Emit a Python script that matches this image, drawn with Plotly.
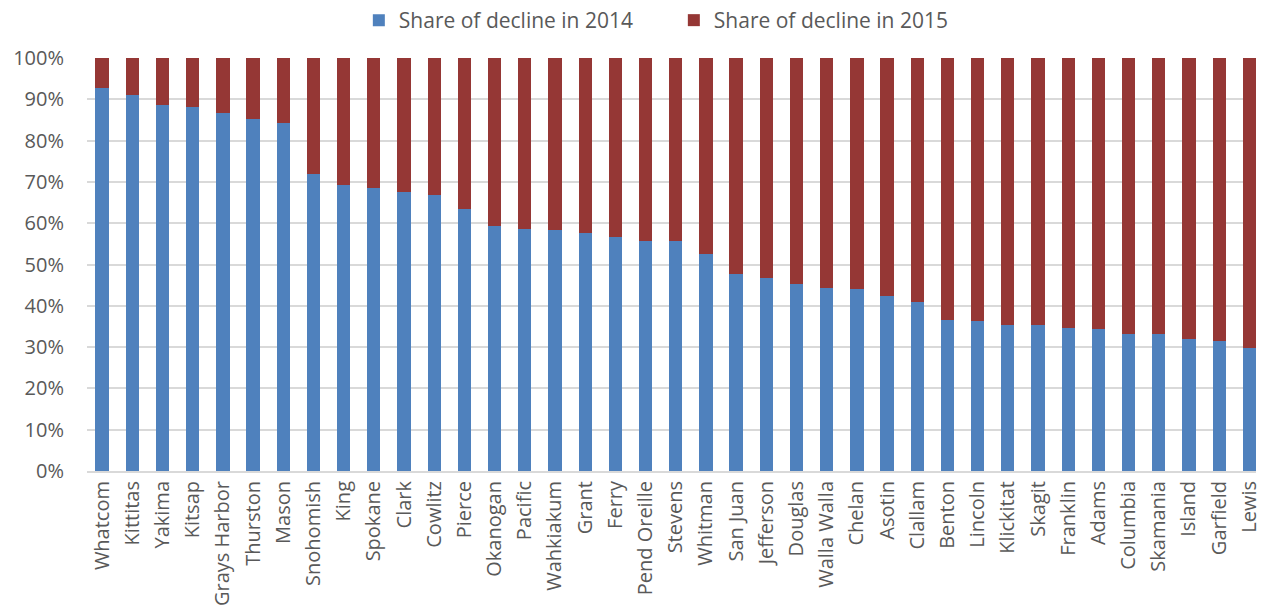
import plotly.graph_objects as go

counties = ["Whatcom", "Kittitas", "Yakima", "Kitsap", "Grays Harbor", "Thurston", "Mason",
            "Snohomish", "King", "Spokane", "Clark", "Cowlitz", "Pierce", "Okanogan", "Pacific",
            "Wahkiakum", "Grant", "Ferry", "Pend Oreille", "Stevens", "Whitman", "San Juan",
            "Jefferson", "Douglas", "Walla Walla", "Chelan", "Asotin", "Clallam", "Benton",
            "Lincoln", "Klickitat", "Skagit", "Franklin", "Adams", "Columbia", "Skamania",
            "Island", "Garfield", "Lewis"]

share_2014 = [0.928, 0.910, 0.887, 0.881, 0.866, 0.853, 0.842,
              0.718, 0.692, 0.686, 0.675, 0.668, 0.634, 0.593, 0.586,
              0.583, 0.576, 0.566, 0.558, 0.557, 0.526, 0.477,
              0.468, 0.454, 0.442, 0.441, 0.424, 0.410, 0.366,
              0.363, 0.354, 0.354, 0.347, 0.345, 0.331, 0.331,
              0.319, 0.315, 0.299]
share_2015 = [round(1 - v, 3) for v in share_2014]

series_names = ["Share of decline in 2014", "Share of decline in 2015"]
colors = ["#4F81BD", "#953735"]

fig = go.Figure()
fig.add_trace(go.Bar(x=counties, y=share_2014, name=series_names[0],
                     marker=dict(color=colors[0], line=dict(width=0))))
fig.add_trace(go.Bar(x=counties, y=share_2015, name=series_names[1],
                     marker=dict(color=colors[1], line=dict(width=0))))

fig.update_layout(
    barmode="stack",
    bargap=0.56,
    width=1262, height=614,
    margin=dict(l=87, r=0, t=58, b=143),
    plot_bgcolor="white", paper_bgcolor="white",
    font=dict(family="Open Sans", color="#595959", size=20),
    legend=dict(orientation="h", x=0.502, xanchor="center", y=1.092, yanchor="middle",
                font=dict(size=21, color="#595959"), traceorder="normal",
                entrywidth=270),
    showlegend=True,
)
fig.update_xaxes(range=[-0.5, 38.22], tickangle=-90, showgrid=False,
                 showline=True, linecolor="#d9d9d9", linewidth=2,
                 tickfont=dict(size=20, color="#595959"), ticks="")
fig.update_yaxes(range=[0, 1], tickformat=".0%", dtick=0.1, showgrid=True,
                 gridcolor="#d9d9d9", gridwidth=2, zeroline=False,
                 ticklabelstandoff=22, tickfont=dict(size=20, color="#595959"))

fig.write_html("out.html")
